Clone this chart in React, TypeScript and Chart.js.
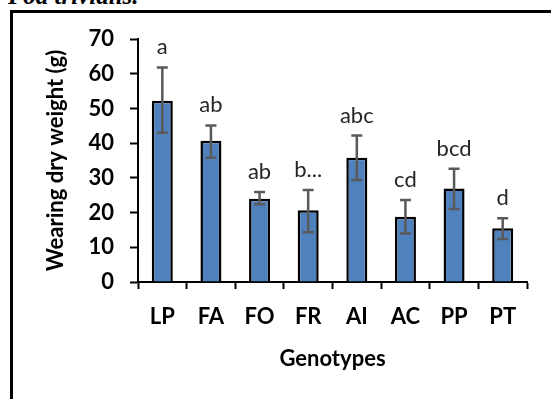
import { useEffect, useRef } from "react";
import { Chart, registerables } from "chart.js";

Chart.register(...registerables);

const categories = ["LP", "FA", "FO", "FR", "AI", "AC", "PP", "PT"];
const means = [52.2, 40.7, 24.0, 20.7, 35.8, 18.8, 26.9, 15.5];
const errHigh = [61.8, 45.1, 25.9, 26.5, 42.2, 23.6, 32.6, 18.4];
const errLow = [43.0, 35.8, 22.4, 14.3, 29.4, 14.0, 21.0, 12.4];
const letters = ["a", "ab", "ab", "b...", "abc", "cd", "bcd", "d"];
const yMin = 0;
const yMax = 70;
const yStep = 10;

const FONT = "Lato";

const overlayPlugin = {
  id: "overlay",
  afterDatasetsDraw(chart: any) {
    const ctx = chart.ctx;
    const yScale = chart.scales.y;
    const meta = chart.getDatasetMeta(0);
    ctx.save();
    meta.data.forEach((bar: any, i: number) => {
      const x = bar.x;
      const top = yScale.getPixelForValue(errHigh[i]);
      const bot = yScale.getPixelForValue(errLow[i]);
      ctx.strokeStyle = "#5a5a5a";
      ctx.lineWidth = 2.5;
      ctx.beginPath();
      ctx.moveTo(x, top);
      ctx.lineTo(x, bot);
      ctx.moveTo(x - 5.5, top);
      ctx.lineTo(x + 5.5, top);
      ctx.moveTo(x - 5.5, bot);
      ctx.lineTo(x + 5.5, bot);
      ctx.stroke();
      ctx.fillStyle = "#262626";
      ctx.font = `22px ${FONT}`;
      ctx.textAlign = "center";
      ctx.textBaseline = "alphabetic";
      ctx.fillText(letters[i], x, top - 13);
    });
    ctx.restore();
  },
};

export default function App() {
  const ref = useRef<HTMLCanvasElement>(null);

  useEffect(() => {
    if (!ref.current) return;
    const chart = new Chart(ref.current, {
      type: "bar",
      data: {
        labels: categories,
        datasets: [
          {
            data: means,
            backgroundColor: "#4F81BD",
            borderColor: "#000000",
            borderWidth: 2.5,
            barPercentage: 0.48,
            categoryPercentage: 0.9,
          },
        ],
      },
      options: {
        responsive: false,
        animation: false,
        layout: { padding: { left: 0, right: 24, top: 39, bottom: 0 } },
        plugins: {
          legend: { display: false },
          tooltip: { enabled: false },
        },
        scales: {
          x: {
            afterFit: (s: any) => {
              s.height = 399 - 282;
            },
            grid: {
              drawOnChartArea: false,
              offset: true,
              tickLength: 7,
              tickColor: "#000",
              tickWidth: 2,
            },
            border: { color: "#000", width: 2 },
            ticks: {
              color: "#000",
              padding: 15,
              font: { family: FONT, size: 22, weight: "bold" },
            },
            title: {
              display: true,
              text: "Genotypes",
              color: "#000",
              font: { family: FONT, size: 22, weight: "bold" },
              padding: { top: 0, bottom: 27 },
            },
          },
          y: {
            min: yMin,
            max: yMax,
            afterFit: (s: any) => {
              s.width = 138;
            },
            grid: {
              drawOnChartArea: false,
              tickLength: 8,
              tickColor: "#000",
              tickWidth: 2,
            },
            border: { color: "#000", width: 2 },
            ticks: {
              stepSize: yStep,
              color: "#000",
              padding: 16,
              font: { family: FONT, size: 22, weight: "bold" },
            },
            title: {
              display: true,
              text: "Wearing dry weight (g)",
              color: "#000",
              font: { family: FONT, size: 22, weight: "bold" },
              padding: { top: 43, bottom: 0 },
            },
          },
        },
      },
      plugins: [overlayPlugin],
    });
    return () => chart.destroy();
  }, []);

  return (
    <div
      style={{
        position: "fixed",
        left: 0,
        top: 0,
        width: 551,
        height: 399,
        overflow: "hidden",
        background: "#fff",
      }}
    >
      <div
        style={{
          position: "absolute",
          left: 8,
          top: -17,
          fontFamily: "'Liberation Serif', 'Times New Roman', serif",
          fontWeight: "bold",
          fontStyle: "italic",
          fontSize: 25,
          lineHeight: "25px",
          whiteSpace: "nowrap",
          color: "#000",
        }}
      >
        Poa trivialis.
      </div>
      <div
        style={{
          position: "absolute",
          left: 10,
          top: 10,
          width: 600,
          height: 500,
          border: "3px solid #000",
          boxSizing: "border-box",
        }}
      />
      <canvas
        ref={ref}
        width={551}
        height={399}
        style={{ position: "absolute", left: 0, top: 0 }}
      />
    </div>
  );
}
